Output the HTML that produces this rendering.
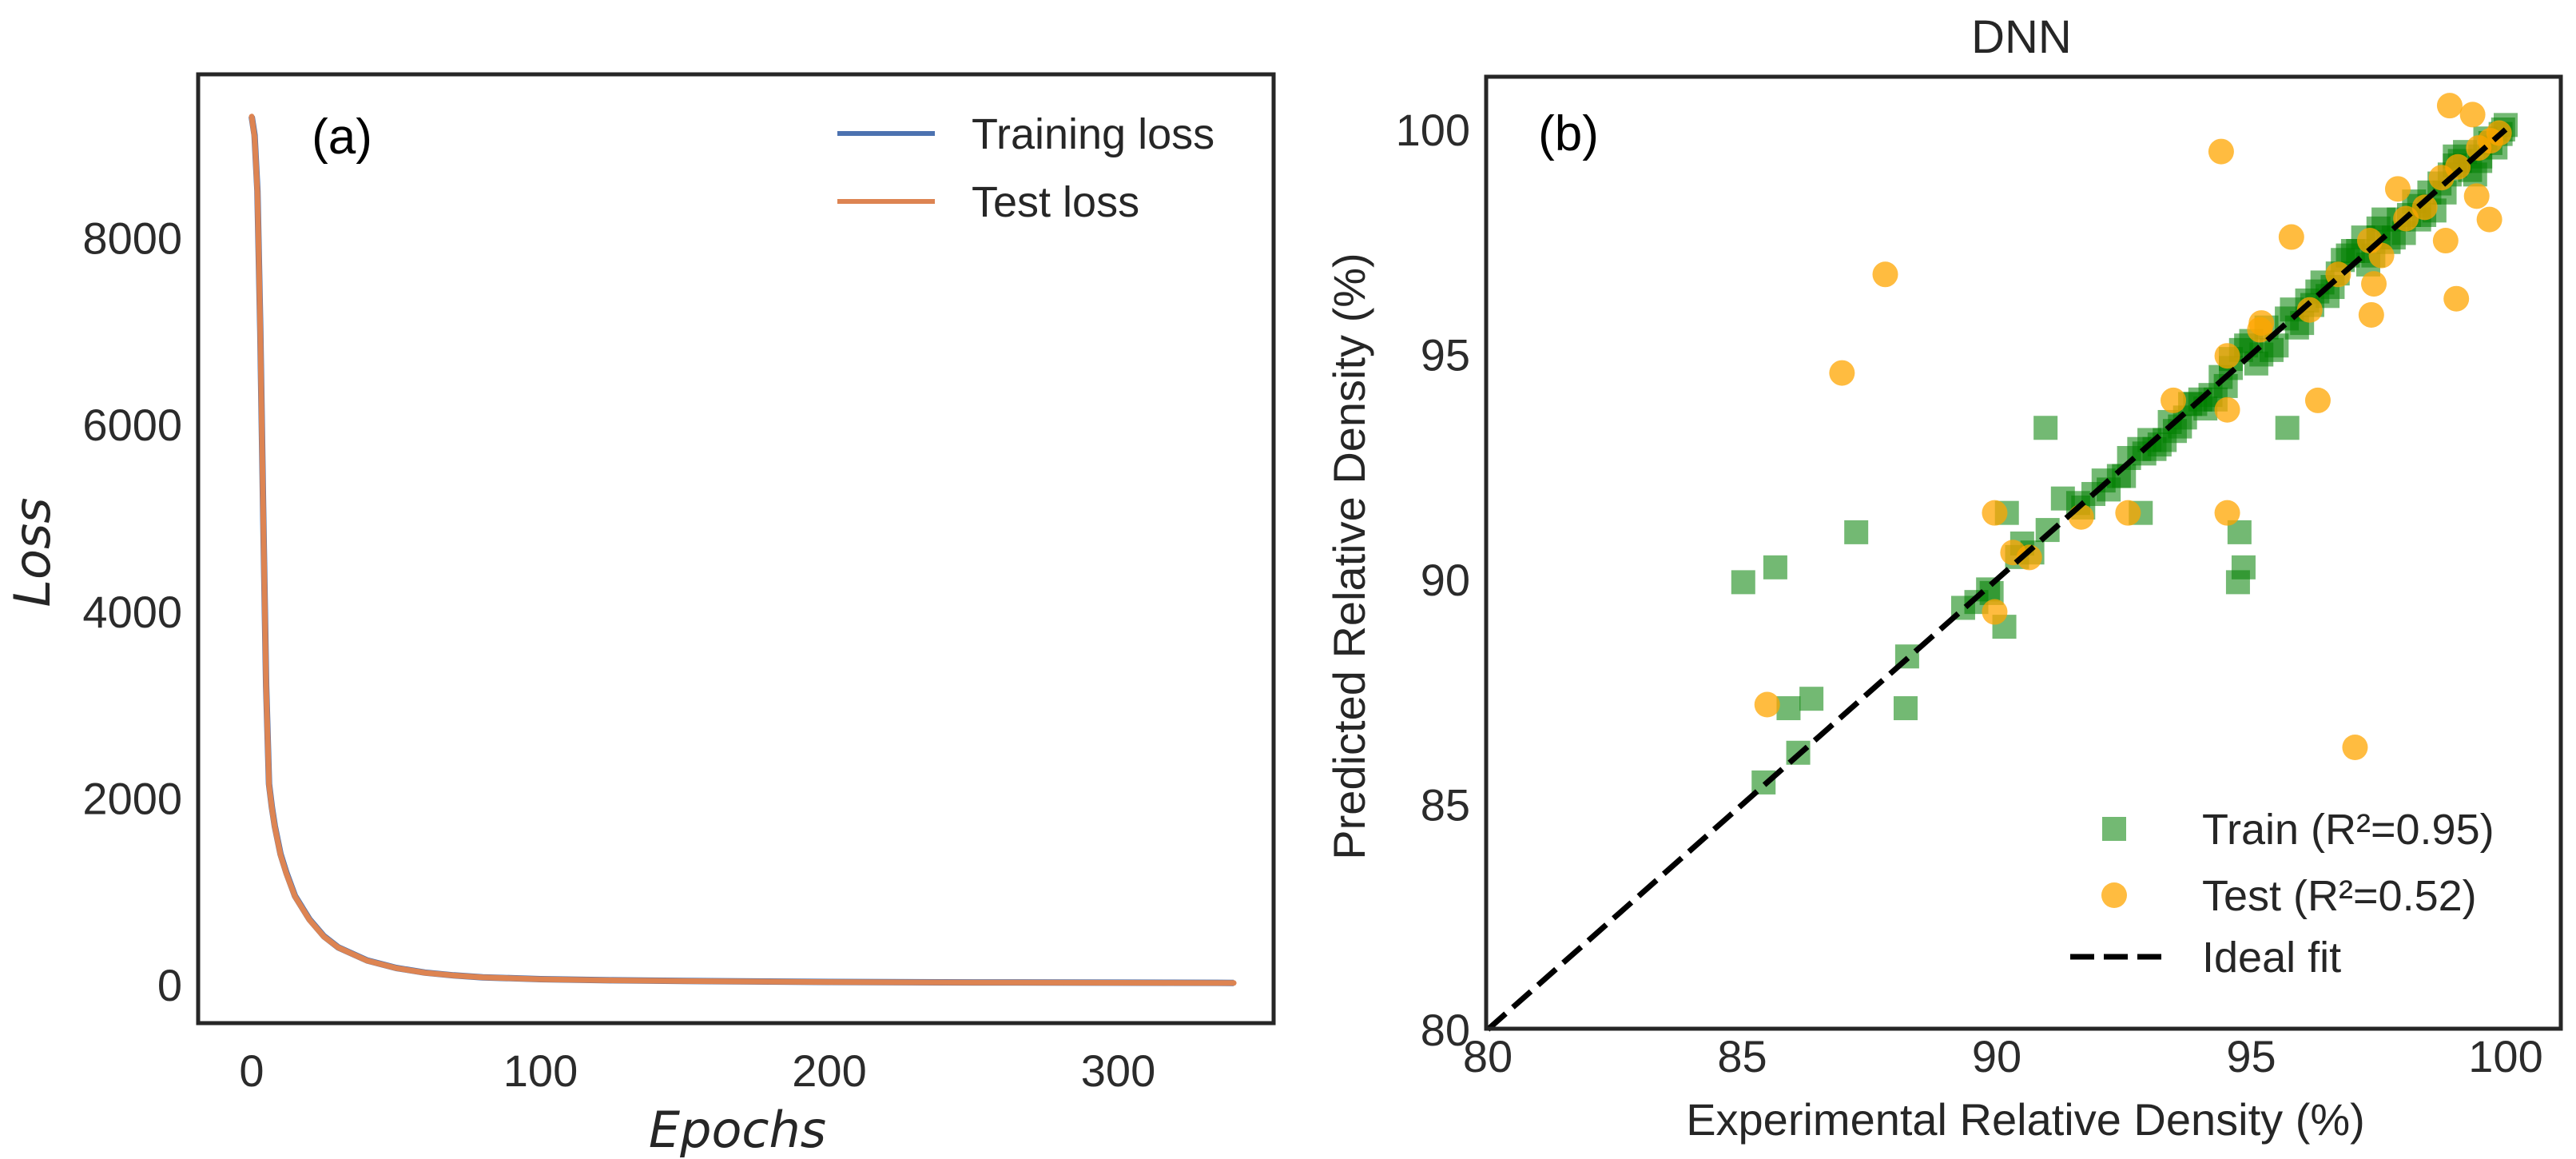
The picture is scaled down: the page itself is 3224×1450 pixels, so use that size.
<!DOCTYPE html>
<html><head><meta charset="utf-8"><style>
html,body{margin:0;padding:0;background:#fff;}
svg{display:block;font-family:"Liberation Sans",sans-serif;}
.tick{font-size:56px;fill:#2b2b2b;}
</style></head><body>
<svg id="fig" width="3224" height="1450" viewBox="0 0 3224 1450" xmlns="http://www.w3.org/2000/svg">
<g id="pa"></g>
<g id="pb"></g>
</svg>
<script>
// ---- Panel (a) data ----
const epochs = [0,1,2,3,4,5,6,7,8,10,12,15,20,25,30,40,50,60,70,80,100,125,150,200,250,300,340];
const trainLoss = [9300,9100,8500,7000,5000,3200,2150,1900,1700,1400,1200,950,700,520,400,260,180,130,100,80,60,48,40,30,25,22,20];
const testLoss  = [9300,9080,8480,6980,4980,3180,2140,1890,1690,1390,1190,945,695,515,398,258,178,128,99,79,59,47,39,29,24,21,19];
const lossXTicks = [0,100,200,300];
const lossYTicks = [0,2000,4000,6000,8000];
// ---- Panel (b) data ----
const trainX = [85.02,85.65,87.24,90.96,95.71,90.2,92.83,94.77,94.85,94.74,90.15,88.21,88.24,85.91,86.36,86.1,85.42,89.34,89.83,
 89.6,90.4,90.7,91.0,91.3,91.6,91.9,92.1,92.4,92.6,92.8,93.0,93.2,93.4,93.6,93.8,94.0,94.2,94.4,94.6,94.8,95.0,95.2,95.5,95.7,95.9,96.1,96.3,96.5,96.7,96.9,97.1,97.3,97.5,97.7,97.9,98.1,98.3,98.5,98.7,98.9,99.1,99.3,99.5,99.7,99.9,100.0,97.2,96.8,98.6,99.2,95.3,94.3,93.1,92.2,97.6,98.0,
 93.3,93.7,94.1,94.5,94.9,95.4,95.8,96.2,96.6,97.0,97.4,97.8,98.2,98.4,98.8,99.0,99.4,99.6,99.8,99.95,96.0,96.4,97.5,98.3,99.0,99.5,93.9,94.6,95.1,92.9,90.5,89.9,91.7,92.5,93.5];
const trainY = [89.94,90.27,91.05,93.37,93.37,91.48,91.48,91.05,90.27,89.94,88.95,87.14,88.29,87.14,87.35,86.15,85.49,89.37,89.78,
 89.5,90.5,90.6,91.1,91.8,91.7,91.9,92.2,92.3,92.7,92.9,93.1,93.0,93.5,93.4,93.9,94.0,94.1,94.5,94.7,95.1,95.3,95.0,95.2,95.8,95.6,96.2,96.4,96.3,96.8,97.2,97.3,97.0,97.6,97.5,98.0,98.1,98.3,98.6,98.8,99.0,99.3,99.1,99.4,99.7,99.9,100.1,97.6,97.1,98.2,99.5,95.6,94.0,92.9,92.0,98.0,97.7,
 93.1,93.6,93.8,94.3,95.2,95.1,96.0,96.1,96.5,97.3,97.2,97.6,98.4,98.1,98.6,99.2,99.0,99.8,99.6,100.0,95.7,96.6,97.8,98.0,99.4,99.3,93.9,94.9,94.8,92.8,90.8,89.7,91.6,92.3,93.3];
const testX = [87.81,86.96,94.41,98.9,99.35,95.79,99.03,97.04,96.31,94.53,94.53,93.47,89.96,91.66,92.58,89.96,90.32,90.64,85.49,97.36,97.41,96.15,95.17,94.53,96.71,99.68,99.43,98.82,97.88,97.33,98.04,98.41,98.74,99.06,99.47,99.87,99.7,97.56,95.2];
const testY = [96.78,94.59,99.51,100.53,100.33,97.61,96.24,86.27,93.98,93.77,91.48,93.98,91.48,91.39,91.48,89.28,90.6,90.49,87.22,95.88,96.57,95.99,95.55,94.97,96.78,98.0,98.52,97.53,98.68,97.53,98.02,98.27,98.93,99.17,99.59,99.92,99.75,97.2,95.7];
const scatterTicks = [80,85,90,95,100];

const NS="http://www.w3.org/2000/svg";
function mk(tag,attrs,parent){const e=document.createElementNS(NS,tag);for(const k in attrs)e.setAttribute(k,attrs[k]);parent.appendChild(e);return e;}

// ---------- Panel (a) ----------
const pa=document.getElementById('pa');
const ax={l:248,t:93,r:1594,b:1280};
const xA=v=>315+v*3.615;
const yA=v=>1232-v*0.1168;
lossXTicks.forEach(v=>{const t=mk('text',{x:xA(v),y:1318,'text-anchor':'middle','dominant-baseline':'hanging',class:'tick'},pa);t.textContent=v;

});
lossYTicks.forEach(v=>{const t=mk('text',{x:228,y:yA(v)+20,'text-anchor':'end',class:'tick'},pa);t.textContent=v;

});
function path(xs,ys,fx,fy){return xs.map((x,i)=>(i?'L':'M')+fx(x).toFixed(1)+' '+fy(ys[i]).toFixed(1)).join(' ');}
const l1=mk('path',{d:path(epochs,trainLoss,xA,yA),fill:'none',stroke:'#4c72b0','stroke-width':8,'stroke-linejoin':'round'},pa);


const l2=mk('path',{d:path(epochs,testLoss,xA,yA),fill:'none',stroke:'#dd8452','stroke-width':7,'stroke-linejoin':'round','stroke-linecap':'round'},pa);


const fa=mk('rect',{x:ax.l,y:ax.t,width:ax.r-ax.l,height:ax.b-ax.t,fill:'none',stroke:'#262626','stroke-width':5},pa);


const la=mk('text',{x:428,y:192,'text-anchor':'middle','font-size':62,fill:'#000'},pa);la.textContent='(a)';


[['Training loss','#4c72b0',167],['Test loss','#dd8452',252]].forEach(([s,c,y])=>{
 const g=mk('g',{},pa);
 
 
 mk('line',{x1:1048,x2:1170,y1:y,y2:y,stroke:c,'stroke-width':6},g);
 const t=mk('text',{x:1216,y:y+19,'font-size':54,fill:'#262626'},g);t.textContent=s;});
const yl=mk('text',{transform:'translate(62,691) rotate(-90)','text-anchor':'middle','font-size':62,'font-style':'italic','font-family':'"DejaVu Sans",sans-serif',fill:'#262626'},pa);yl.textContent='Loss';


const xl=mk('text',{x:923,y:1435,'text-anchor':'middle','font-size':62,'font-style':'italic','font-family':'"DejaVu Sans",sans-serif',fill:'#262626'},pa);xl.textContent='Epochs';



// ---------- Panel (b) ----------
const pb=document.getElementById('pb');
const bx={l:1860,t:96,r:3205,b:1287};
const xB=v=>1862+(v-80)*63.7;
const yB=v=>1288-(v-80)*56.3;
scatterTicks.forEach(v=>{const t=mk('text',{x:xB(v),y:1300,'text-anchor':'middle','dominant-baseline':'hanging',class:'tick'},pb);t.textContent=v;


const u=mk('text',{x:1840,y:yB(v)+20,'text-anchor':'end',class:'tick'},pb);u.textContent=v;

});
trainX.forEach((x,i)=>{const r=mk('rect',{x:xB(x)-15,y:yB(trainY[i])-15,width:30,height:30,fill:'#008000','fill-opacity':0.55},pb);

});
testX.forEach((x,i)=>{const c=mk('circle',{cx:xB(x),cy:yB(testY[i]),r:16,fill:'#ffa500','fill-opacity':0.75},pb);

});
const dl=mk('line',{x1:xB(80),y1:yB(80),x2:xB(100),y2:yB(100),stroke:'#000','stroke-width':7,'stroke-dasharray':'30 12'},pb);


const fb=mk('rect',{x:bx.l,y:bx.t,width:bx.r-bx.l,height:bx.b-bx.t,fill:'none',stroke:'#262626','stroke-width':5},pb);


const lb=mk('text',{x:1963,y:188,'text-anchor':'middle','font-size':62,fill:'#000'},pb);lb.textContent='(b)';


const ti=mk('text',{x:2530,y:66,'text-anchor':'middle','font-size':58,fill:'#262626'},pb);ti.textContent='DNN';


const g1=mk('g',{},pb);


mk('rect',{x:2631,y:1022,width:30,height:30,fill:'#008000','fill-opacity':0.55},g1);
let t=mk('text',{x:2756,y:1056,'font-size':54,fill:'#262626'},g1);t.textContent='Train (R²=0.95)';
const g2=mk('g',{},pb);


mk('circle',{cx:2646,cy:1120,r:16,fill:'#ffa500','fill-opacity':0.75},g2);
t=mk('text',{x:2756,y:1139,'font-size':54,fill:'#262626'},g2);t.textContent='Test (R²=0.52)';
const g3=mk('g',{},pb);


mk('line',{x1:2591,x2:2705,y1:1197,y2:1197,stroke:'#000','stroke-width':7,'stroke-dasharray':'30 12'},g3);
t=mk('text',{x:2756,y:1216,'font-size':54,fill:'#262626'},g3);t.textContent='Ideal fit';
const yl2=mk('text',{transform:'translate(1708,696) rotate(-90)','text-anchor':'middle','font-size':56,fill:'#262626'},pb);yl2.textContent='Predicted Relative Density (%)';


const xl2=mk('text',{x:2535,y:1420,'text-anchor':'middle','font-size':56,fill:'#262626'},pb);xl2.textContent='Experimental Relative Density (%)';


</script>
</body></html>
